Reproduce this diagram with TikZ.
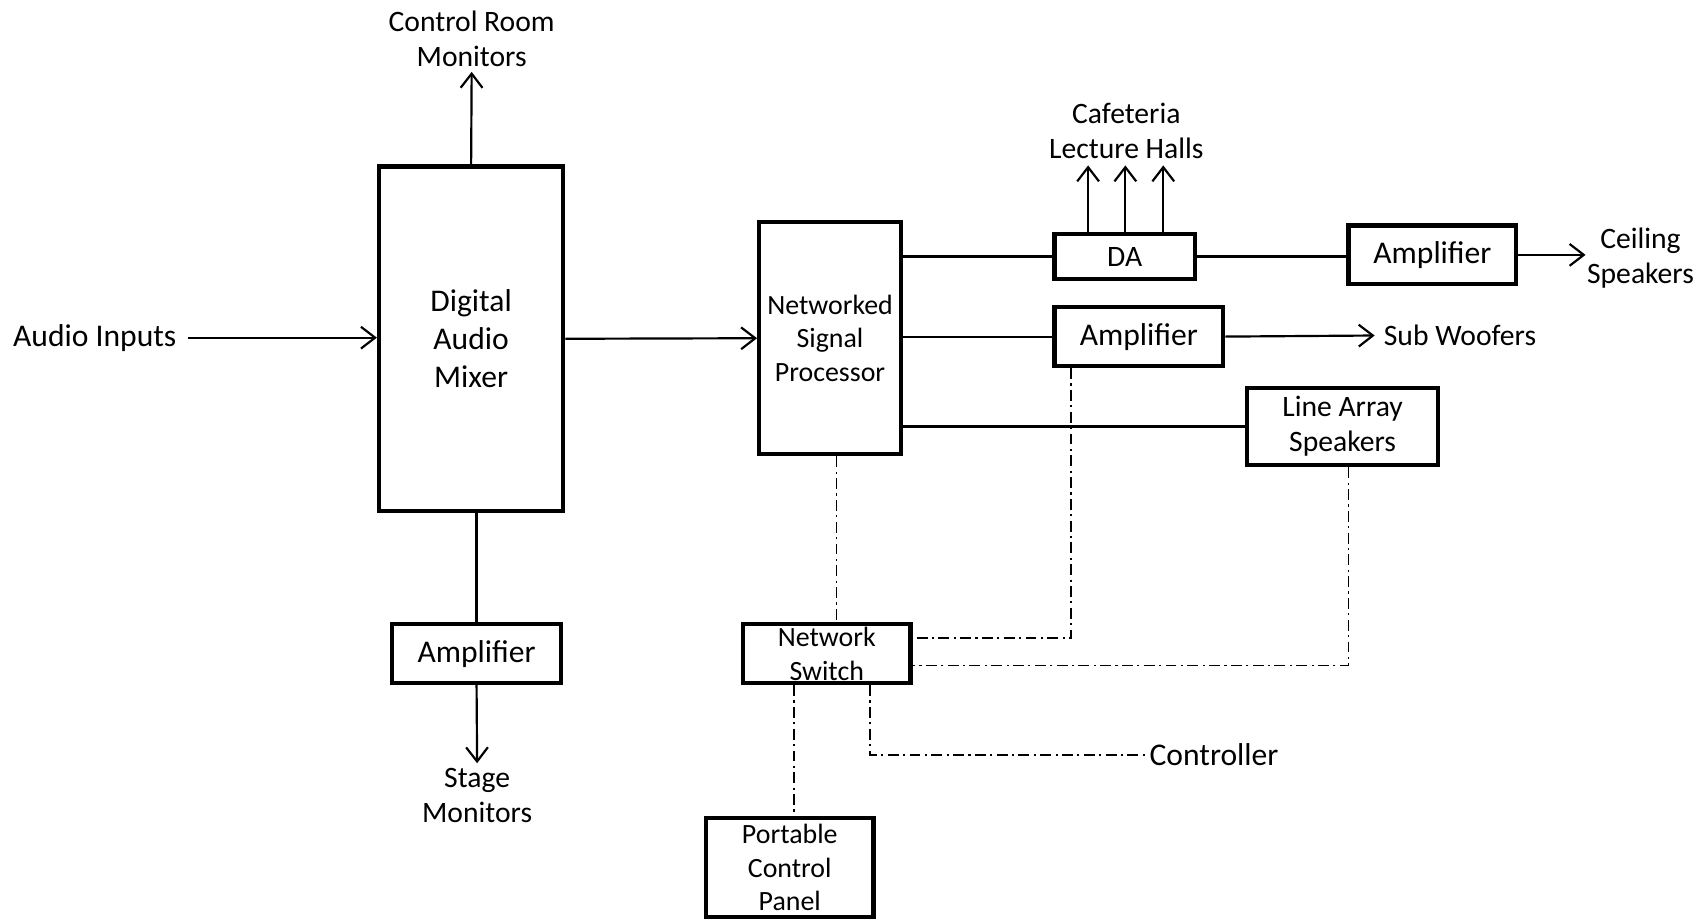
\documentclass[tikz,border=0pt]{standalone}
\usepackage{fontspec}
\setmainfont{Carlito}
\usetikzlibrary{arrows.meta,calc}
\newcommand{\fsbig}{\fontsize{14.5pt}{17.5pt}\selectfont}
\newcommand{\fsmid}{\fontsize{13.6pt}{16pt}\selectfont}
\newcommand{\fssmall}{\fontsize{12.8pt}{15.5pt}\selectfont}
\begin{document}
\begin{tikzpicture}[x=0.5pt,y=-0.5pt,
  box/.style={draw,line width=2pt,inner sep=0pt,align=center},
  lbl/.style={inner sep=0pt,align=center},
  conn/.style={line width=1pt},
  arr/.style={line width=1pt,-{Straight Barb[length=6.5pt,width=10pt,line width=1pt]}},
  ctl/.style={line width=0.8pt,dash pattern=on 5pt off 2pt on 1pt off 2pt}]
\useasboundingbox (0,0) rectangle (1568,846);
% boxes
\node[box,minimum width=84.5pt,minimum height=158pt,font=\fsbig] (mixer) at (432.5,311) {Digital\\Audio\\Mixer};
\node[box,minimum width=65pt,minimum height=106.5pt,font=\fssmall] (nsp) at (762,310.5) {Networked\\Signal\\Processor};
\node[box,minimum width=64.5pt,minimum height=20.5pt,font=\fsmid] (da) at (1032.5,235.5) {DA};
\node[box,minimum width=77pt,minimum height=27pt,font=\fsbig] (amp1) at (1315,234) {Amplifier};
\node[box,minimum width=77.5pt,minimum height=27pt,font=\fsbig] (amp2) at (1045.5,309) {Amplifier};
\node[box,minimum width=87.5pt,minimum height=35.5pt,font=\fsmid] (las) at (1232.5,391.5) {Line Array\\Speakers};
\node[box,minimum width=77pt,minimum height=27pt,font=\fssmall] (ns) at (759,600) {Network\\Switch};
\node[box,minimum width=77pt,minimum height=45.5pt,font=\fssmall] (pcp) at (725,796.5) {Portable\\Control\\Panel};
\node[box,minimum width=77.5pt,minimum height=27pt,font=\fsbig] (amp3) at (437.5,600) {Amplifier};
% labels
\node[lbl,font=\fsbig,inner xsep=5pt] (audio) at (87,310) {Audio Inputs};
\node[lbl,font=\fsmid,inner sep=2pt] (crm) at (433,36) {Control Room\\Monitors};
\node[lbl,font=\fsmid,inner sep=2pt] (stage) at (438,730) {Stage\\Monitors};
\node[lbl,font=\fsmid,inner sep=3pt] (caf) at (1034,120) {Cafeteria\\Lecture Halls};
\node[lbl,font=\fsmid,inner xsep=0.5pt] (ceil) at (1506,237) {Ceiling\\Speakers};
\node[lbl,font=\fsmid,inner xsep=4pt,anchor=west] (sub) at (1262,308) {Sub Woofers};
\node[lbl,font=\fsbig,inner xsep=1.5pt,anchor=west] (ctrl) at (1052,693) {Controller};
% signal connectors
\draw[arr] (audio.east) -- (audio.east -| mixer.west);
\draw[arr] (mixer.east) -- (nsp.west);
\draw[arr] (mixer.north) -- (crm.south);
\draw[conn] (amp3.north |- mixer.south) -- (amp3.north);
\draw[arr] (amp3.south) -- (stage.north);
\draw[conn] (nsp.east |- da.west) -- (da.west);
\draw[arr] ([xshift=-16.8pt]da.north) -- ([xshift=-16.8pt]da.north |- caf.south);
\draw[arr] ([xshift=0.3pt]da.north) -- ([xshift=0.3pt]da.north |- caf.south);
\draw[arr] ([xshift=17.7pt]da.north) -- ([xshift=17.7pt]da.north |- caf.south);
\draw[conn] (da.east) -- (da.east -| amp1.west);
\draw[arr] (amp1.east) -- (amp1.east -| ceil.west);
\draw[conn] (nsp.east |- amp2.west) -- (amp2.west);
\draw[arr] (amp2.east) -- (sub.west);
\draw[conn] (nsp.east |- las.west) -- (las.west);
% control connectors
\draw[ctl] ([xshift=3pt]nsp.south) -- ([xshift=3pt]nsp.south |- ns.north);
\draw[ctl] ([xshift=-31pt]amp2.south) |- ([yshift=7pt]ns.east);
\draw[ctl] ([xshift=2.75pt]las.south) |- ([yshift=-5.5pt]ns.east);
\draw[ctl] ([xshift=-15pt]ns.south) -- ([xshift=-15pt]ns.south |- pcp.north);
\draw[ctl] ([xshift=20pt]ns.south) |- (ctrl.west);
\end{tikzpicture}
\end{document}
